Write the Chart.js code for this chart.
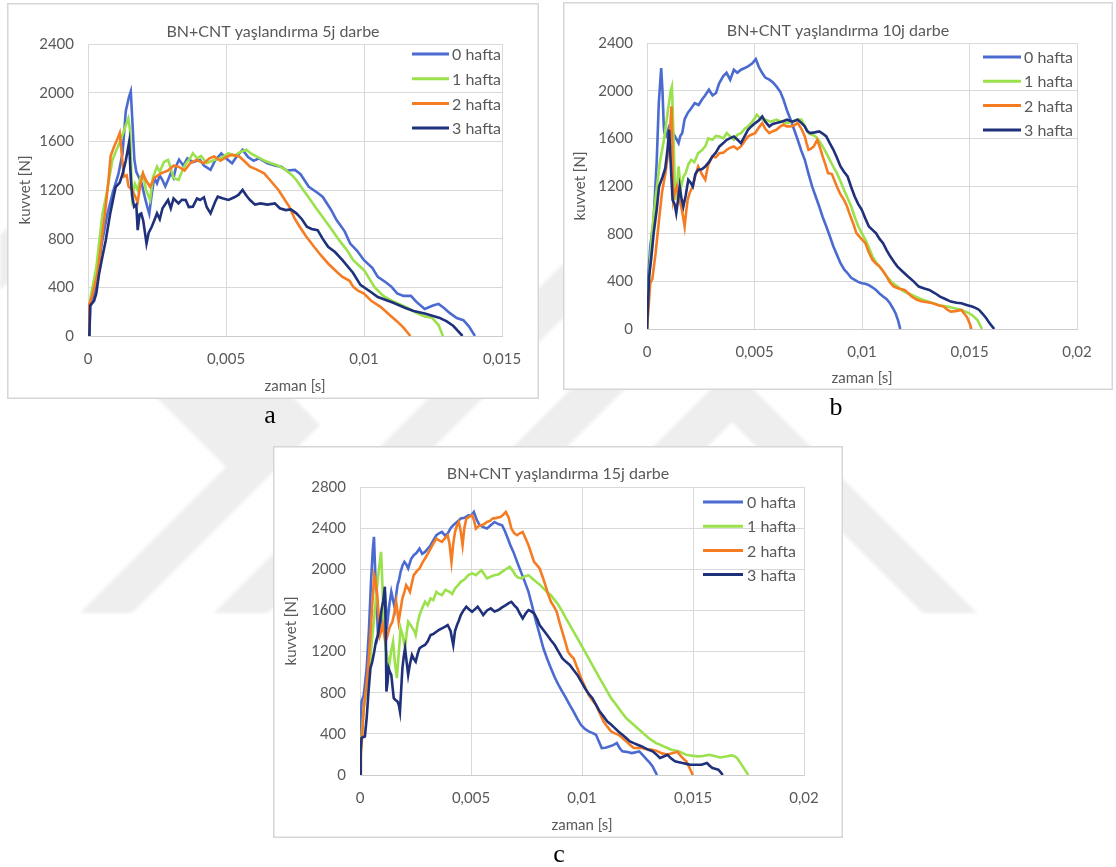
<!DOCTYPE html>
<html>
<head>
<meta charset="utf-8">
<script src="https://cdn.jsdelivr.net/npm/chart.js@4.4.1/dist/chart.umd.min.js"></script>
<style>
  html, body { margin: 0; padding: 0; background: #fff; width: 1116px; height: 867px; overflow: hidden; }
  #bg { position: absolute; left: 0; top: 0; }
  .panel { position: absolute; }
  .panel canvas { display: block; }
</style>
</head>
<body>
<canvas id="bg" width="1116" height="867"></canvas>
<div class="panel" style="left:7px;top:3px"><canvas id="chartA" width="532" height="396"></canvas></div>
<div class="panel" style="left:563px;top:2px"><canvas id="chartB" width="550" height="388"></canvas></div>
<div class="panel" style="left:273px;top:446px"><canvas id="chartC" width="570" height="392"></canvas></div>
<script>
// ---- labels ----
const SERIES_LABELS = ['0 hafta', '1 hafta', '2 hafta', '3 hafta'];
const SERIES_COLORS = ['#4b6bd0', '#9be14c', '#f57c23', '#1f317a'];
const TITLE_A = 'BN+CNT yaşlandırma 5j darbe';
const TITLE_B = 'BN+CNT yaşlandırma 10j darbe';
const TITLE_C = 'BN+CNT yaşlandırma 15j darbe';
const X_TITLE = 'zaman [s]';
const Y_TITLE = 'kuvvet [N]';
const CAPTIONS = ['a', 'b', 'c'];
const MS = 0.001; // time values below are in milliseconds; the axis is in seconds

// ---- 5j darbe: [time ms, force N] ----
const a_hafta0 = [[0,0],[0.05,0],[0.08,250],[0.2,330],[0.35,520],[0.5,760],[0.7,1000],[0.9,1180],[1.1,1330],[1.25,1500],[1.37,1850],[1.48,1960],[1.55,2010],[1.6,1800],[1.68,1450],[1.75,1350],[1.85,1300],[1.95,1250],[2.05,1150],[2.15,1060],[2.22,1006],[2.3,1150],[2.4,1300],[2.5,1255],[2.6,1320],[2.7,1280],[2.8,1230],[2.9,1282],[3.0,1340],[3.1,1300],[3.2,1400],[3.3,1450],[3.45,1400],[3.6,1460],[3.8,1430],[4.06,1447],[4.2,1400],[4.44,1365],[4.6,1440],[4.83,1500],[5.0,1460],[5.22,1420],[5.4,1480],[5.6,1530],[5.8,1470],[6.0,1440],[6.2,1460],[6.5,1420],[6.8,1400],[7.0,1392],[7.2,1360],[7.5,1365],[7.7,1330],[8.0,1227],[8.3,1180],[8.5,1145],[8.8,1040],[9.0,955],[9.3,860],[9.5,760],[9.75,700],[10.0,623],[10.3,560],[10.5,486],[10.8,440],[11.0,404],[11.2,350],[11.43,330],[11.7,330],[11.9,280],[12.2,222],[12.5,250],[12.7,264],[12.9,230],[13.1,190],[13.36,148],[13.6,130],[13.8,80],[14.02,0]];
const a_hafta1 = [[0,0],[0.03,200],[0.1,330],[0.3,560],[0.52,1000],[0.7,1200],[0.88,1443],[1.05,1540],[1.2,1620],[1.35,1720],[1.46,1787],[1.52,1700],[1.6,1145],[1.7,1250],[1.8,1200],[1.9,1300],[1.99,1337],[2.1,1200],[2.25,1118],[2.35,1300],[2.5,1392],[2.6,1350],[2.75,1430],[2.9,1447],[3.0,1380],[3.1,1300],[3.28,1282],[3.4,1350],[3.55,1420],[3.7,1460],[3.8,1502],[3.95,1460],[4.1,1480],[4.3,1420],[4.57,1447],[4.8,1460],[5.09,1502],[5.3,1480],[5.5,1510],[5.74,1530],[5.9,1500],[6.12,1475],[6.4,1440],[6.64,1420],[6.9,1400],[7.16,1365],[7.4,1320],[7.55,1282],[7.8,1200],[8.06,1118],[8.3,1040],[8.58,953],[8.85,870],[9.1,788],[9.4,700],[9.61,623],[10.0,541],[10.39,400],[10.7,330],[11.0,290],[11.55,234],[11.9,190],[12.2,160],[12.46,151],[12.7,90],[12.86,0]];
const a_hafta2 = [[0,0],[0.03,250],[0.15,330],[0.34,509],[0.5,800],[0.64,1058],[0.75,1300],[0.82,1480],[0.95,1560],[1.05,1610],[1.15,1668],[1.22,1500],[1.3,1310],[1.4,1320],[1.47,1227],[1.6,1200],[1.7,1150],[1.8,1100],[1.9,1250],[1.99,1337],[2.1,1280],[2.25,1227],[2.4,1300],[2.64,1337],[2.9,1360],[3.1,1400],[3.28,1392],[3.5,1360],[3.7,1420],[3.93,1447],[4.2,1420],[4.4,1460],[4.57,1475],[4.8,1440],[5.0,1470],[5.22,1490],[5.48,1475],[5.7,1430],[5.87,1392],[6.1,1370],[6.38,1337],[6.6,1280],[6.9,1200],[7.1,1130],[7.29,1063],[7.5,960],[7.67,898],[7.9,820],[8.19,733],[8.45,660],[8.7,596],[9.0,530],[9.22,486],[9.48,454],[9.61,404],[9.8,370],[10.0,349],[10.26,289],[10.6,240],[10.9,179],[11.2,120],[11.43,69],[11.68,0]];
const a_hafta3 = [[0,0],[0.05,0],[0.08,250],[0.22,289],[0.3,350],[0.4,509],[0.52,650],[0.64,783],[0.8,1000],[1.0,1223],[1.15,1260],[1.25,1330],[1.37,1443],[1.49,1594],[1.55,1300],[1.6,1150],[1.67,1063],[1.75,1080],[1.8,870],[1.87,1000],[1.93,1008],[2.0,950],[2.12,760],[2.2,850],[2.31,898],[2.4,950],[2.5,1008],[2.6,960],[2.7,1050],[2.9,1118],[3.0,1050],[3.1,1130],[3.28,1090],[3.4,1120],[3.54,1118],[3.65,1060],[3.8,1063],[3.95,1130],[4.06,1118],[4.2,1140],[4.3,1060],[4.44,1008],[4.6,1100],[4.7,1145],[4.9,1130],[5.09,1118],[5.3,1140],[5.45,1160],[5.6,1200],[5.75,1150],[5.87,1118],[6.05,1080],[6.25,1090],[6.5,1080],[6.77,1090],[6.95,1050],[7.16,1035],[7.35,1040],[7.55,1008],[7.75,960],[7.93,898],[8.1,880],[8.32,870],[8.5,800],[8.7,733],[8.95,690],[9.22,623],[9.6,520],[9.87,420],[10.26,360],[10.5,320],[11.04,275],[11.5,230],[11.8,206],[12.2,185],[12.72,151],[13.0,120],[13.24,82],[13.57,0]];

// ---- 10j darbe ----
const b_hafta0 = [[0,0],[0.07,468],[0.15,692],[0.3,900],[0.45,1400],[0.55,1900],[0.66,2190],[0.72,2000],[0.78,1700],[0.81,1644],[0.9,1620],[1.0,1680],[1.1,1600],[1.22,1644],[1.35,1600],[1.47,1560],[1.55,1620],[1.64,1644],[1.75,1760],[1.89,1812],[2.05,1850],[2.22,1896],[2.4,1880],[2.55,1924],[2.7,1960],[2.88,2008],[3.05,1960],[3.21,1980],[3.35,2060],[3.54,2120],[3.7,2150],[3.87,2092],[4.04,2176],[4.2,2150],[4.37,2176],[4.55,2190],[4.7,2204],[4.9,2230],[5.06,2265],[5.2,2200],[5.36,2148],[5.5,2110],[5.69,2092],[5.85,2070],[6.02,2036],[6.2,1990],[6.35,1924],[6.5,1840],[6.68,1756],[6.85,1670],[7.01,1588],[7.17,1500],[7.34,1420],[7.5,1310],[7.68,1196],[7.85,1110],[8.01,1028],[8.17,940],[8.34,860],[8.5,780],[8.67,692],[8.84,620],[9.0,552],[9.17,500],[9.33,468],[9.5,430],[9.66,412],[9.82,395],[9.99,384],[10.15,380],[10.3,370],[10.48,350],[10.65,328],[10.8,300],[10.98,272],[11.15,250],[11.3,216],[11.45,170],[11.56,132],[11.68,70],[11.78,0]];
const b_hafta1 = [[0,0],[0.1,420],[0.23,804],[0.4,1100],[0.6,1400],[0.8,1600],[0.95,1800],[1.1,2000],[1.16,2036],[1.22,1700],[1.31,1084],[1.4,1200],[1.47,1364],[1.53,1250],[1.59,1196],[1.7,1280],[1.8,1308],[1.92,1380],[2.05,1420],[2.2,1400],[2.38,1476],[2.55,1500],[2.71,1532],[2.85,1600],[3.04,1588],[3.2,1620],[3.37,1616],[3.55,1600],[3.71,1644],[3.85,1620],[4.04,1588],[4.2,1630],[4.37,1644],[4.55,1680],[4.7,1700],[4.9,1740],[5.11,1798],[5.3,1760],[5.53,1756],[5.75,1740],[6.02,1756],[6.25,1740],[6.52,1728],[6.8,1740],[7.0,1760],[7.18,1756],[7.35,1700],[7.51,1644],[7.68,1630],[7.84,1616],[8.0,1580],[8.17,1532],[8.33,1480],[8.5,1420],[8.67,1360],[8.83,1308],[9.0,1240],[9.16,1168],[9.33,1100],[9.5,1028],[9.66,940],[9.83,860],[10.0,800],[10.16,748],[10.33,680],[10.49,608],[10.65,560],[10.82,524],[11.0,480],[11.15,440],[11.4,390],[11.65,356],[11.9,320],[12.14,300],[12.4,280],[12.64,258],[13.0,235],[13.3,216],[13.6,200],[13.96,188],[14.3,175],[14.62,160],[14.9,140],[15.12,118],[15.37,76],[15.58,0]];
const b_hafta2 = [[0,0],[0.08,200],[0.15,384],[0.25,420],[0.4,636],[0.55,900],[0.7,1150],[0.85,1300],[1.0,1500],[1.08,1700],[1.14,1868],[1.18,1500],[1.22,1084],[1.3,1150],[1.39,1196],[1.48,1100],[1.59,1028],[1.67,950],[1.75,860],[1.82,980],[1.89,1084],[2.0,1150],[2.13,1196],[2.25,1290],[2.38,1364],[2.55,1300],[2.71,1252],[2.85,1380],[3.04,1448],[3.2,1440],[3.37,1476],[3.55,1480],[3.71,1504],[3.85,1520],[4.04,1532],[4.2,1510],[4.37,1532],[4.55,1580],[4.7,1616],[4.85,1630],[5.03,1644],[5.2,1690],[5.36,1728],[5.5,1680],[5.69,1644],[5.85,1660],[6.02,1672],[6.2,1700],[6.35,1714],[6.5,1700],[6.68,1700],[6.85,1710],[7.01,1728],[7.18,1680],[7.34,1616],[7.45,1540],[7.51,1504],[7.6,1510],[7.76,1532],[7.92,1588],[8.05,1520],[8.17,1448],[8.3,1380],[8.42,1308],[8.6,1300],[8.83,1196],[9.0,1130],[9.16,1084],[9.3,1030],[9.41,972],[9.6,880],[9.74,804],[9.95,760],[10.16,720],[10.3,650],[10.49,580],[10.65,550],[10.82,524],[11.0,480],[11.15,440],[11.3,390],[11.48,356],[11.7,340],[11.98,328],[12.15,300],[12.31,272],[12.55,245],[12.8,230],[13.05,225],[13.3,216],[13.55,200],[13.8,188],[13.95,165],[14.13,146],[14.35,150],[14.62,160],[14.75,130],[14.87,104],[15.0,50],[15.09,0]];
const b_hafta3 = [[0,0],[0.1,440],[0.2,600],[0.31,804],[0.45,1000],[0.56,1196],[0.73,1280],[0.85,1350],[0.95,1500],[1.03,1672],[1.1,1400],[1.19,1084],[1.28,1050],[1.36,972],[1.44,1080],[1.52,1196],[1.6,1100],[1.69,1028],[1.8,1120],[1.92,1252],[2.02,1230],[2.13,1196],[2.25,1300],[2.38,1336],[2.55,1340],[2.71,1364],[2.88,1400],[3.04,1448],[3.2,1480],[3.37,1532],[3.55,1560],[3.71,1588],[3.85,1600],[4.04,1616],[4.2,1590],[4.37,1560],[4.55,1620],[4.7,1672],[4.85,1700],[5.03,1728],[5.2,1750],[5.36,1784],[5.5,1740],[5.69,1700],[5.85,1720],[6.02,1728],[6.25,1740],[6.52,1756],[6.75,1740],[7.01,1756],[7.18,1730],[7.34,1700],[7.45,1660],[7.59,1644],[7.8,1650],[8.01,1658],[8.17,1640],[8.34,1616],[8.5,1560],[8.67,1504],[8.83,1440],[9.0,1364],[9.16,1320],[9.33,1280],[9.5,1190],[9.66,1112],[9.82,1050],[9.99,1000],[10.15,930],[10.32,860],[10.5,830],[10.65,804],[10.8,760],[10.98,720],[11.15,660],[11.32,608],[11.5,560],[11.65,524],[11.9,480],[12.14,440],[12.4,400],[12.64,356],[12.9,340],[13.13,328],[13.4,300],[13.63,272],[13.9,250],[14.13,230],[14.4,220],[14.62,216],[14.9,200],[15.12,188],[15.3,175],[15.45,160],[15.6,130],[15.78,90],[15.95,45],[16.15,0]];

// ---- 15j darbe ----
const c_hafta0 = [[0,0],[0.03,400],[0.07,714],[0.17,779],[0.3,1038],[0.4,1400],[0.5,1900],[0.58,2200],[0.63,2315],[0.68,2000],[0.76,1620],[0.81,1361],[0.9,1450],[0.98,1523],[1.05,1650],[1.12,1781],[1.18,1600],[1.24,1490],[1.32,1650],[1.41,1781],[1.49,1700],[1.57,1620],[1.63,1750],[1.69,1846],[1.76,1900],[1.83,1975],[1.92,2040],[2.0,2072],[2.08,2050],[2.17,2008],[2.3,2100],[2.42,2137],[2.55,2160],[2.68,2202],[2.8,2150],[2.93,2169],[3.05,2200],[3.18,2234],[3.3,2280],[3.44,2331],[3.56,2350],[3.69,2363],[3.82,2330],[3.95,2347],[4.08,2400],[4.2,2428],[4.37,2460],[4.54,2493],[4.7,2500],[4.88,2525],[5.0,2520],[5.13,2557],[5.26,2480],[5.39,2428],[5.55,2410],[5.72,2396],[5.9,2430],[6.06,2460],[6.23,2440],[6.4,2428],[6.53,2370],[6.66,2299],[6.78,2230],[6.91,2169],[7.08,2070],[7.25,1975],[7.42,1880],[7.59,1781],[7.76,1640],[7.93,1490],[8.1,1360],[8.26,1232],[8.43,1130],[8.6,1038],[8.77,950],[8.94,876],[9.11,810],[9.28,747],[9.45,680],[9.62,617],[9.78,550],[9.95,488],[10.12,450],[10.3,424],[10.46,410],[10.63,391],[10.75,330],[10.89,262],[11.06,265],[11.23,278],[11.4,290],[11.57,310],[11.7,260],[11.82,230],[12.0,225],[12.24,213],[12.4,220],[12.58,230],[12.75,190],[12.92,149],[13.05,120],[13.18,84],[13.28,40],[13.38,0]];
const c_hafta1 = [[0,0],[0.08,400],[0.17,650],[0.34,876],[0.45,1100],[0.56,1361],[0.65,1550],[0.73,1749],[0.85,2000],[0.95,2169],[1.0,1900],[1.07,1490],[1.15,1232],[1.23,1150],[1.32,1070],[1.4,1200],[1.49,1296],[1.57,1100],[1.66,941],[1.75,1200],[1.83,1426],[1.93,1350],[2.03,1232],[2.1,1380],[2.17,1490],[2.27,1460],[2.37,1426],[2.45,1400],[2.51,1361],[2.6,1480],[2.68,1555],[2.8,1620],[2.93,1684],[3.05,1650],[3.18,1717],[3.3,1700],[3.44,1781],[3.56,1760],[3.69,1749],[3.85,1800],[4.03,1781],[4.15,1760],[4.28,1814],[4.4,1840],[4.54,1878],[4.7,1900],[4.88,1943],[5.05,1960],[5.22,1943],[5.35,1970],[5.47,1991],[5.6,1950],[5.72,1911],[5.9,1930],[6.06,1943],[6.23,1950],[6.4,1975],[6.57,2000],[6.74,2024],[6.87,1990],[7.0,1943],[7.12,1920],[7.25,1911],[7.42,1930],[7.59,1943],[7.76,1910],[7.93,1878],[8.1,1850],[8.26,1814],[8.43,1780],[8.6,1749],[8.77,1700],[8.94,1652],[9.11,1590],[9.28,1523],[9.45,1460],[9.62,1393],[9.79,1330],[9.96,1264],[10.13,1200],[10.3,1135],[10.46,1070],[10.63,1005],[10.8,940],[10.97,876],[11.14,810],[11.31,747],[11.48,700],[11.65,650],[11.82,600],[11.99,553],[12.16,520],[12.33,488],[12.5,455],[12.67,424],[12.84,390],[13.0,359],[13.17,335],[13.34,310],[13.51,295],[13.68,278],[13.85,262],[14.02,246],[14.2,238],[14.36,230],[14.53,213],[14.7,197],[14.95,188],[15.2,181],[15.45,185],[15.72,197],[15.97,185],[16.22,171],[16.48,180],[16.73,191],[16.85,185],[16.98,165],[17.1,130],[17.24,84],[17.37,40],[17.49,0]];
const c_hafta2 = [[0,0],[0.04,200],[0.1,391],[0.17,650],[0.25,800],[0.35,1000],[0.47,1361],[0.55,1650],[0.64,1943],[0.7,1900],[0.78,1749],[0.84,1550],[0.9,1361],[0.96,1400],[1.02,1458],[1.08,1380],[1.15,1296],[1.23,1350],[1.32,1426],[1.39,1460],[1.46,1490],[1.55,1580],[1.63,1684],[1.68,1600],[1.74,1490],[1.82,1600],[1.91,1717],[2.0,1780],[2.08,1846],[2.16,1820],[2.25,1781],[2.33,1860],[2.42,1943],[2.55,1980],[2.68,2008],[2.8,2060],[2.93,2105],[3.05,2150],[3.18,2202],[3.3,2250],[3.44,2299],[3.56,2280],[3.69,2266],[3.82,2300],[3.95,2331],[4.03,2250],[4.12,2072],[4.2,2250],[4.28,2363],[4.36,2420],[4.45,2460],[4.53,2380],[4.62,2234],[4.7,2400],[4.79,2493],[4.92,2510],[5.05,2525],[5.13,2480],[5.22,2396],[5.35,2420],[5.47,2428],[5.6,2440],[5.72,2460],[5.85,2470],[5.98,2493],[6.15,2500],[6.32,2509],[6.45,2530],[6.57,2557],[6.7,2500],[6.82,2396],[6.95,2350],[7.08,2331],[7.2,2350],[7.33,2363],[7.46,2300],[7.59,2234],[7.72,2150],[7.84,2072],[7.97,2040],[8.09,2008],[8.22,1930],[8.35,1846],[8.47,1760],[8.6,1684],[8.73,1640],[8.86,1587],[8.98,1490],[9.11,1393],[9.24,1300],[9.37,1199],[9.5,1160],[9.62,1135],[9.79,1040],[9.96,941],[10.13,860],[10.3,779],[10.46,730],[10.63,682],[10.8,600],[10.97,520],[11.14,470],[11.31,424],[11.48,405],[11.65,391],[11.82,360],[11.99,327],[12.16,295],[12.33,262],[12.5,262],[12.67,262],[12.92,250],[13.17,246],[13.37,234],[13.6,210],[13.85,200],[14.1,215],[14.3,225],[14.45,185],[14.6,150],[14.7,133],[14.8,90],[14.99,0]];
const c_hafta3 = [[0,0],[0.03,250],[0.07,359],[0.15,370],[0.22,375],[0.3,553],[0.38,800],[0.47,1038],[0.55,1100],[0.64,1199],[0.72,1300],[0.81,1361],[0.9,1500],[0.98,1620],[1.05,1700],[1.12,1830],[1.16,1400],[1.19,811],[1.24,900],[1.29,1038],[1.35,1000],[1.41,973],[1.47,850],[1.52,747],[1.6,730],[1.69,714],[1.75,680],[1.8,617],[1.86,850],[1.91,1038],[1.97,1150],[2.03,1232],[2.1,1100],[2.17,973],[2.25,1080],[2.34,1167],[2.42,1130],[2.51,1102],[2.6,1180],[2.68,1232],[2.8,1250],[2.93,1264],[3.05,1300],[3.18,1361],[3.3,1370],[3.44,1393],[3.56,1410],[3.69,1426],[3.82,1440],[3.95,1458],[4.08,1400],[4.2,1264],[4.28,1400],[4.37,1458],[4.45,1500],[4.54,1555],[4.66,1600],[4.79,1636],[4.92,1610],[5.05,1587],[5.17,1610],[5.3,1636],[5.42,1600],[5.55,1555],[5.72,1600],[5.89,1620],[6.06,1590],[6.23,1604],[6.4,1630],[6.57,1652],[6.7,1670],[6.82,1684],[6.95,1650],[7.08,1620],[7.2,1570],[7.33,1523],[7.46,1570],[7.59,1604],[7.72,1590],[7.84,1571],[7.97,1520],[8.09,1458],[8.26,1410],[8.43,1361],[8.6,1310],[8.77,1264],[8.94,1200],[9.11,1135],[9.28,1100],[9.45,1070],[9.62,1020],[9.79,973],[9.96,910],[10.13,844],[10.3,790],[10.47,747],[10.64,680],[10.8,617],[10.97,570],[11.14,520],[11.31,490],[11.48,456],[11.65,420],[11.82,391],[11.99,360],[12.16,327],[12.33,310],[12.5,294],[12.67,280],[12.84,262],[13.0,245],[13.18,230],[13.35,200],[13.51,165],[13.68,180],[13.85,197],[14.02,160],[14.19,133],[14.36,125],[14.53,116],[14.7,108],[14.87,100],[15.1,100],[15.38,100],[15.63,116],[15.75,90],[15.88,68],[16.0,60],[16.14,52],[16.25,25],[16.34,0]];

// ---- axis ranges and tick steps ----
const A_X_MAX = 0.015, A_Y_MAX = 2400;
const B_X_MAX = 0.02,  B_Y_MAX = 2400;
const C_X_MAX = 0.02,  C_Y_MAX = 2800;
const X_STEP = 0.005, Y_STEP = 400;

const FONT = 'Lato, "Open Sans", "Liberation Sans", sans-serif';
const TEXT = '#595959';
const GRID = '#d9d9d9';

// Background emblem: light grey diagonal bands behind the panels
(function drawBackground() {
  const cv = document.getElementById('bg');
  const g = cv.getContext('2d');
  const shapes = [
    [[129,370],[226,467],[80,613],[132,613],[320,425],[266,370]],
    [[214,613],[268,613],[631,250],[577,250]],
    [[347,613],[401,613],[764,250],[710,250]],
    [[487,613],[732,368],[977,613],[923,613],[732,422],[541,613]],
    [[0,235],[0,290],[100,190],[45,190]]
  ];
  g.save();
  g.filter = 'blur(1.5px)';
  g.fillStyle = '#eeeeee';
  shapes.forEach(pts => {
    g.beginPath();
    pts.forEach((p, i) => i ? g.lineTo(p[0], p[1]) : g.moveTo(p[0], p[1]));
    g.closePath();
    g.fill();
  });
  g.restore();
  // panel captions
  g.fillStyle = '#000';
  g.font = '26px "Liberation Serif", "DejaVu Serif", serif';
  g.textAlign = 'center';
  g.textBaseline = 'alphabetic';
  g.fillText(CAPTIONS[0], 270, 423);
  g.fillText(CAPTIONS[1], 836, 415);
  g.fillText(CAPTIONS[2], 559, 862);
})();

function fmtX(v) {
  if (v === 0) return '0';
  return String(Number(v.toFixed(4))).replace('.', ',');
}
function fmtY(v) {
  return String(v);
}

// Frame, title, axis titles and in-plot legend
const panelDecor = {
  id: 'panelDecor',
  beforeDraw(chart) {
    const c = chart.ctx;
    c.save();
    c.fillStyle = '#fff';
    c.fillRect(0, 0, chart.width, chart.height);
    c.strokeStyle = '#d6d6d6';
    c.lineWidth = 1.5;
    c.strokeRect(0.75, 0.75, chart.width - 1.5, chart.height - 1.5);
    c.restore();
  },
  afterDraw(chart, args, o) {
    const c = chart.ctx;
    const area = chart.chartArea;
    c.save();
    c.fillStyle = TEXT;
    c.textAlign = 'center';
    c.textBaseline = 'middle';
    c.font = '16px ' + FONT;
    c.fillText(o.title, chart.width / 2, o.titleY);
    c.font = '15px ' + FONT;
    c.fillText(X_TITLE, (area.left + area.right) / 2, o.xTitleY);
    c.save();
    c.translate(o.yTitleX, (area.top + area.bottom) / 2);
    c.rotate(-Math.PI / 2);
    c.fillText(Y_TITLE, 0, 0);
    c.restore();
    // legend
    c.font = '16px ' + FONT;
    c.textAlign = 'left';
    chart.data.datasets.forEach((ds, i) => {
      const y = o.legTop + i * o.legGap;
      c.strokeStyle = ds.borderColor;
      c.lineWidth = 3;
      c.beginPath();
      c.moveTo(o.legX0, y);
      c.lineTo(o.legX1, y);
      c.stroke();
      c.fillStyle = TEXT;
      c.fillText(ds.label, o.legText, y + 1);
    });
    c.restore();
  }
};

function buildChart(id, series, xMax, yMax, L) {
  return new Chart(document.getElementById(id), {
    type: 'line',
    data: {
      datasets: series.map((s, i) => ({
        label: SERIES_LABELS[i],
        data: s.map(p => ({ x: p[0] * MS, y: p[1] })),
        borderColor: SERIES_COLORS[i],
        backgroundColor: SERIES_COLORS[i],
        borderWidth: 2.6,
        pointRadius: 0,
        tension: 0,
        fill: false,
        order: series.length - i
      }))
    },
    options: {
      responsive: false,
      animation: false,
      events: [],
      layout: { padding: { top: L.top, right: L.right, left: 0, bottom: 0 } },
      plugins: {
        legend: { display: false },
        title: { display: false },
        tooltip: { enabled: false },
        panelDecor: L
      },
      scales: {
        x: {
          type: 'linear', min: 0, max: xMax,
          ticks: { stepSize: X_STEP, callback: fmtX, color: TEXT, font: { family: FONT, size: 15 }, padding: 14, maxRotation: 0, autoSkip: false },
          grid: { color: GRID, lineWidth: 1, drawTicks: false },
          border: { color: '#cccccc', width: 1 },
          afterFit(s) { s.height = L.xAxisH; }
        },
        y: {
          type: 'linear', min: 0, max: yMax,
          ticks: { stepSize: Y_STEP, callback: fmtY, color: TEXT, font: { family: FONT, size: 15 }, padding: 14 },
          grid: { color: GRID, lineWidth: 1, drawTicks: false },
          border: { color: GRID, width: 1 },
          afterFit(s) { s.width = L.yAxisW; }
        }
      }
    },
    plugins: [panelDecor]
  });
}

buildChart('chartA', [a_hafta0, a_hafta1, a_hafta2, a_hafta3], A_X_MAX, A_Y_MAX, {
  top: 41, right: 37, yAxisW: 81, xAxisH: 63,
  title: TITLE_A, titleY: 29, xTitleY: 383, yTitleX: 18,
  legTop: 51, legGap: 24.7, legX0: 405, legX1: 442, legText: 445
});
buildChart('chartB', [b_hafta0, b_hafta1, b_hafta2, b_hafta3], B_X_MAX, B_Y_MAX, {
  top: 41, right: 36, yAxisW: 84, xAxisH: 61,
  title: TITLE_B, titleY: 29, xTitleY: 376, yTitleX: 17,
  legTop: 55, legGap: 24.3, legX0: 420, legX1: 458, legText: 461
});
buildChart('chartC', [c_hafta0, c_hafta1, c_hafta2, c_hafta3], C_X_MAX, C_Y_MAX, {
  top: 41, right: 39, yAxisW: 87, xAxisH: 63,
  title: TITLE_C, titleY: 28, xTitleY: 379, yTitleX: 18,
  legTop: 56, legGap: 24.2, legX0: 430, legX1: 470, legText: 474
});
</script>
</body>
</html>
